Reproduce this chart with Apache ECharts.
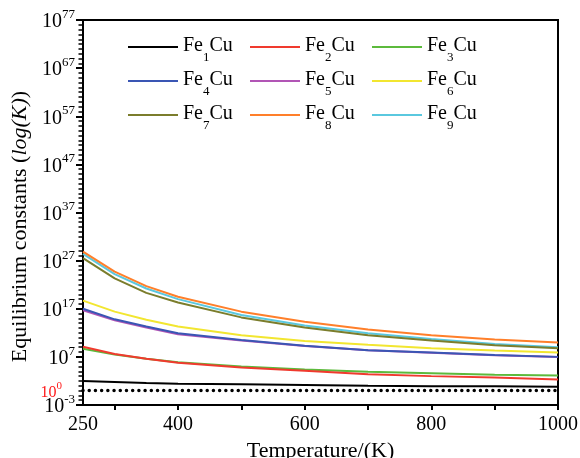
<!DOCTYPE html>
<html><head><meta charset="utf-8">
<script src="https://cdn.jsdelivr.net/npm/echarts@6/dist/echarts.min.js"></script>
<style>html,body{margin:0;padding:0;background:#fff}#c{width:580px;height:458px}</style>
</head><body><div id="c"></div>
<script>
// ---- data ----
const temperatures = [250, 300, 350, 400, 500, 600, 700, 800, 900, 1000];
const fe1cu = [100, 63, 37, 25, 20, 14, 10, 8, 7.6, 6.3];
const fe2cu = [1.3e9, 4e7, 4e6, 6.3e5, 6.3e4, 1.3e4, 2.5e3, 1e3, 500, 200];
const fe3cu = [5e8, 3.2e7, 4e6, 8e5, 1e5, 2.5e4, 8e3, 4e3, 2e3, 1.3e3];
const fe4cu = [1e17, 6.3e14, 2e13, 8e11, 3.2e10, 2e9, 2.5e8, 8e7, 2.5e7, 1e7];
const fe5cu = [5e16, 4e14, 1.3e13, 5e11, 2.5e10, 1.8e9, 2.3e8, 7.5e7, 2.3e7, 9e6];
const fe6cu = [5e18, 2.5e16, 5e14, 2e13, 3.2e11, 2e10, 3.2e9, 6.3e8, 2e8, 8e7];
const fe7cu = [3.2e27, 2e23, 2e20, 2e18, 1.6e15, 1.3e13, 3.2e11, 2.5e10, 2.5e9, 6.3e8];
const fe8cu = [7.2e28, 5e24, 5e21, 3.2e19, 2.5e16, 2e14, 5e12, 3.2e11, 4e10, 1e10];
const fe9cu = [2.5e28, 1.6e24, 1.6e21, 1e19, 5e15, 3.2e13, 8e11, 5e10, 5e9, 1e9];
const seriesNames = ['Fe1Cu', 'Fe2Cu', 'Fe3Cu', 'Fe4Cu', 'Fe5Cu', 'Fe6Cu', 'Fe7Cu', 'Fe8Cu', 'Fe9Cu'];
const seriesValues = [fe1cu, fe2cu, fe3cu, fe4cu, fe5cu, fe6cu, fe7cu, fe8cu, fe9cu];
const referenceLevel = 1;
const xLabelValues = [250, 400, 600, 800, 1000];
const xTickValues = [300, 400, 500, 600, 700, 800, 900, 1000];
const yLabelValues = [1e-3, 1e7, 1e17, 1e27, 1e37, 1e47, 1e57, 1e67, 1e77];
const yRefLabelValues = [1];
const yMajorTickValues = [1e-3, 1e7, 1e17, 1e27, 1e37, 1e47, 1e57, 1e67, 1e77];
const yMinorTickValues = [];
for (let e = -3; e <= 77; e++) yMinorTickValues.push(Math.pow(10, e));

// ---- styles ----
const colors = ['#000000', '#f03a2e', '#5cba3c', '#3a56b4', '#b155b5', '#f2e630', '#7b7d2c', '#ff7f2a', '#5ac8df'];
const FONT = '"Liberation Serif","Times New Roman",serif';
const Y_MIN = 0.99999e-3, Y_MAX = 1.00001e77;

const chart = echarts.init(document.getElementById('c'));

const series = seriesNames.map((n, i) => ({
  name: n, type: 'line', symbol: 'none', showSymbol: false,
  data: temperatures.map((t, j) => [t, seriesValues[i][j]]),
  lineStyle: { color: colors[i], width: 2 }, itemStyle: { color: colors[i] },
  z: 3 + (9 - i)
}));
series.push({
  name: 'ref', type: 'line', symbol: 'none', silent: true,
  data: [[250, referenceLevel], [1000, referenceLevel]],
  lineStyle: { color: '#000', width: 3.5, type: [0.01, 6.2], cap: 'round' }
});

const legendRich = {
  a: { fontFamily: FONT, fontSize: 20, color: '#000', lineHeight: 22, verticalAlign: 'top' },
  s: { fontFamily: FONT, fontSize: 13, color: '#000', lineHeight: 13, verticalAlign: 'bottom', padding: [0, 0, -6, 0] }
};
function legendFmt(name) {
  const m = name.match(/^Fe(\d)Cu$/);
  return '{a|Fe}{s|' + m[1] + '}{a|Cu}';
}
const legendCols = [[0, 3, 6], [1, 4, 7], [2, 5, 8]];
const legendLeft = [128, 250, 372];
const legends = legendCols.map((col, k) => ({
  orient: 'vertical', left: legendLeft[k], top: 36,
  icon: 'rect', itemWidth: 50, itemHeight: 2, itemGap: 6,
  padding: 0,
  data: col.map(i => seriesNames[i]),
  formatter: legendFmt,
  textStyle: { rich: legendRich, fontFamily: FONT, fontSize: 20 },
  selectedMode: false
}));

chart.setOption({
  backgroundColor: '#fff',
  animation: false,
  color: colors,
  legend: legends,
  grid: { left: 83, right: 22, top: 20, bottom: 53, outerBoundsMode: 'none', containLabel: false, show: true, borderColor: '#000', borderWidth: 2, backgroundColor: 'transparent' },
  xAxis: {
    type: 'value', min: 250, max: 1000,
    name: 'Temperature/(K)', nameLocation: 'middle', nameGap: 35,
    nameTextStyle: { fontFamily: FONT, fontSize: 22, color: '#000' },
    axisLine: { lineStyle: { color: '#000', width: 2 } },
    axisTick: { customValues: xTickValues, inside: false, length: 5, lineStyle: { color: '#000', width: 2 } },
    axisLabel: { customValues: xLabelValues, formatter: v => String(v), fontFamily: FONT, fontSize: 20, color: '#000', margin: 10 },
    splitLine: { show: false }
  },
  yAxis: [{
    type: 'log', logBase: 10, min: Y_MIN, max: Y_MAX, position: 'left',
    name: '{n|Equilibrium constants (}{i|log(K)}{n|)}', nameLocation: 'middle', nameGap: 50,
    nameTextStyle: {
      padding: [0, 28, 0, 0],
      rich: {
        n: { fontFamily: FONT, fontSize: 22, color: '#000' },
        i: { fontFamily: FONT, fontSize: 22, color: '#000', fontStyle: 'italic' }
      }
    },
    axisLine: { lineStyle: { color: '#000', width: 2 } },
    axisTick: { show: true, inside: false, customValues: yMajorTickValues, length: 7, lineStyle: { color: '#000', width: 2 } },
    axisLabel: {
      customValues: yLabelValues, margin: 8, hideOverlap: false, showMinLabel: true, showMaxLabel: true,
      formatter: v => '{b|10}{p|' + Math.round(Math.log10(v)) + '}',
      rich: {
        b: { fontFamily: FONT, fontSize: 20, color: '#000', lineHeight: 24, verticalAlign: 'bottom' },
        p: { fontFamily: FONT, fontSize: 13, color: '#000', lineHeight: 12, verticalAlign: 'top' }
      }
    },
    splitLine: { show: false }
  }, {
    type: 'log', logBase: 10, min: Y_MIN, max: Y_MAX, position: 'left', offset: 0,
    axisLine: { show: false },
    axisTick: { show: true, inside: false, customValues: yMinorTickValues, length: 4.5, lineStyle: { color: '#000', width: 1.5 } },
    axisLabel: {
      customValues: yRefLabelValues, margin: 21, showMinLabel: true, showMaxLabel: true,
      formatter: () => '{rb|10}{rp|0}',
      rich: {
        rb: { fontFamily: FONT, fontSize: 16, color: '#ff1a1a', lineHeight: 20, verticalAlign: 'bottom' },
        rp: { fontFamily: FONT, fontSize: 11, color: '#ff1a1a', lineHeight: 10, verticalAlign: 'top' }
      }
    },
    splitLine: { show: false }
  }],
  series: series
});
</script></body></html>
